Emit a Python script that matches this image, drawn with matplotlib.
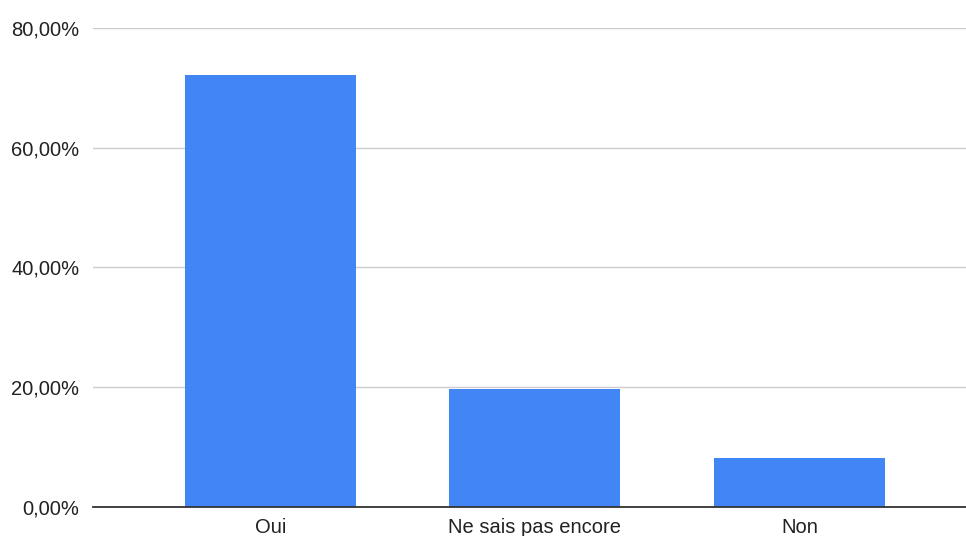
import matplotlib.pyplot as plt
from matplotlib.ticker import FuncFormatter

categories = ["Oui", "Ne sais pas encore", "Non"]
values = [72.1, 19.7, 8.2]
yticks = [0, 20, 40, 60, 80]

plt.rcParams['font.family'] = ['Liberation Sans', 'DejaVu Sans']

fig = plt.figure(figsize=(9.66, 5.36), dpi=100)
ax = fig.add_axes([0.0963, 0.0545, 0.9037, 0.8933])

x = range(len(categories))
ax.bar(x, values, width=0.647, color='#4285f4', zorder=3)

ax.set_xlim(-0.67, 2.63)
ax.set_ylim(0, 80)
ax.set_yticks(yticks)
ax.yaxis.set_major_formatter(FuncFormatter(lambda v, p: f"{v:.2f}%".replace('.', ',')))
ax.set_xticks(list(x))
ax.set_xticklabels(categories)

ax.grid(axis='y', color='#cccccc', linewidth=1, zorder=0)
for s in ['top', 'right', 'left']:
    ax.spines[s].set_visible(False)
ax.spines['bottom'].set_color('#333333')
ax.spines['bottom'].set_linewidth(1.3)
ax.spines['bottom'].set_zorder(4)
ax.tick_params(axis='both', length=0, labelsize=14.5, colors='#222222')
ax.tick_params(axis='y', pad=10)
ax.tick_params(axis='x', pad=8)

fig.savefig('out.png', dpi=100)
